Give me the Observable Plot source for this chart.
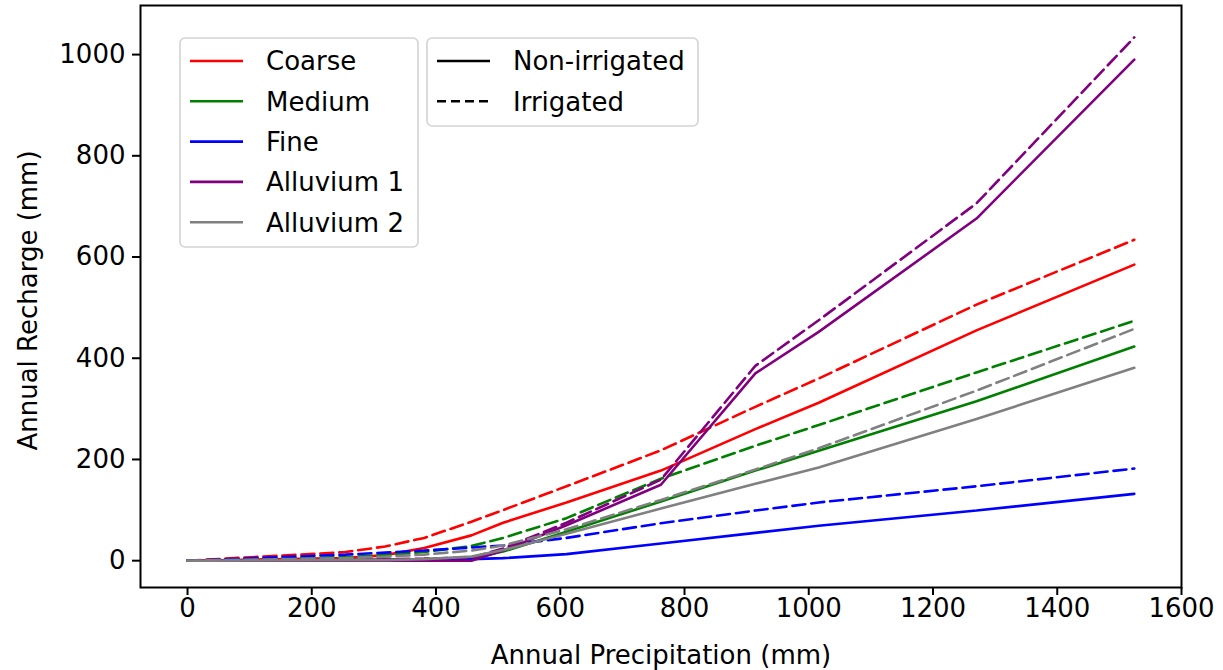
<!DOCTYPE html>
<html>
<head>
<meta charset="utf-8">
<script src="https://cdn.jsdelivr.net/npm/d3@7"></script>
<script src="https://cdn.jsdelivr.net/npm/@observablehq/plot@0.6"></script>
<style>
  body { margin: 0; background: #fff; }
  #wrap { position: relative; width: 1223px; height: 670px; font-family: "DejaVu Sans", sans-serif; }
  #wrap > svg { position: absolute; left: 0; top: 0; }
  #legend { position: absolute; left: 0; top: 0; pointer-events: none; }
</style>
</head>
<body>
<div id="wrap"></div>
<script>
// ---- data ----
const precip = [0, 254, 318, 381, 457, 508, 610, 762, 914, 1016, 1270, 1524];

const soils = ["Coarse", "Medium", "Fine", "Alluvium 1", "Alluvium 2"];
const soilColors = ["red", "green", "blue", "purple", "gray"];
const types = ["Non-irrigated", "Irrigated"];

const coarseNon  = [0, 5, 11, 25, 50, 75, 115, 178, 260, 312, 455, 585];
const coarseIrr  = [0, 17, 28, 45, 77, 100, 147, 218, 304, 360, 506, 634];
const mediumNon  = [0, 1, 2, 3, 5, 18, 57, 117, 178, 217, 315, 423];
const mediumIrr  = [0, 7, 11, 17, 29, 45, 84, 162, 227, 268, 372, 474];
const fineNon    = [0, 1, 1, 2, 3, 5, 13, 34, 55, 69, 99, 132];
const fineIrr    = [0, 12, 16, 20, 26, 30, 45, 74, 99, 115, 147, 182];
const alluv1Non  = [0, 0, 0, 0, 0, 20, 70, 150, 370, 452, 676, 990];
const alluv1Irr  = [0, 2, 3, 4, 6, 24, 75, 160, 385, 475, 706, 1034];
const alluv2Non  = [0, 1, 1, 3, 8, 21, 53, 103, 152, 184, 280, 381];
const alluv2Irr  = [0, 5, 8, 12, 20, 30, 62, 120, 180, 222, 336, 458];

const xTicks = [0, 200, 400, 600, 800, 1000, 1200, 1400, 1600];
const yTicks = [0, 200, 400, 600, 800, 1000];

const series = [
  ["Coarse", coarseNon, coarseIrr],
  ["Medium", mediumNon, mediumIrr],
  ["Fine", fineNon, fineIrr],
  ["Alluvium 1", alluv1Non, alluv1Irr],
  ["Alluvium 2", alluv2Non, alluv2Irr]
];

function rows(soil, vals, type) {
  return precip.map((p, i) => ({soil, type, precip: p, recharge: vals[i]}));
}

const FONT = 26;
const LW = 2.6;
const lineMarks = [];
for (const [soil, non, irr] of series) {
  lineMarks.push(Plot.line(rows(soil, non, "Non-irrigated"), {
    x: "precip", y: "recharge", stroke: "soil", strokeWidth: LW, strokeLinejoin: "miter"
  }));
  lineMarks.push(Plot.line(rows(soil, irr, "Irrigated"), {
    x: "precip", y: "recharge", stroke: "soil", strokeWidth: LW, strokeDasharray: "13,6", strokeLinejoin: "miter"
  }));
}

const chart = Plot.plot({
  width: 1223,
  height: 670,
  marginLeft: 140,
  marginRight: 42,
  marginTop: 5,
  marginBottom: 83,
  style: { fontFamily: "DejaVu Sans, sans-serif", fontSize: FONT + "px", color: "black", background: "white" },
  x: { domain: [-75.7, 1600] },
  y: { domain: [-53, 1097] },
  color: { domain: soils, range: soilColors },
  marks: [
    ...lineMarks,
    Plot.frame({ stroke: "black", strokeWidth: 2 }),
    Plot.axisX({ ticks: xTicks, tickSize: 8, tickPadding: 3, tickFormat: d => String(d), label: null, strokeWidth: 2, fontSize: FONT }),
    Plot.axisY({ ticks: yTicks, tickSize: 8, tickPadding: 7, tickFormat: d => String(d), label: null, strokeWidth: 2, fontSize: FONT }),
    Plot.text(["Annual Precipitation (mm)"], { frameAnchor: "bottom", dy: 68, lineAnchor: "middle", textAnchor: "middle", text: d => d, fontSize: FONT }),
    Plot.text(["Annual Recharge (mm)"], { frameAnchor: "left", dx: -112, dy: 4, rotate: -90, lineAnchor: "middle", textAnchor: "middle", text: d => d, fontSize: FONT })
  ]
});

const wrap = document.getElementById("wrap");
wrap.appendChild(chart);

// ---- legends drawn over the axes ----
const svg = d3.select(wrap).append("svg")
  .attr("id", "legend").attr("width", 1223).attr("height", 670)
  .style("font-family", "DejaVu Sans, sans-serif").style("font-size", FONT + "px");

function legendBox(x, y, w, h, entries) {
  const g = svg.append("g").attr("transform", `translate(${x},${y})`);
  g.append("rect").attr("x", 0).attr("y", 0).attr("width", w).attr("height", h)
    .attr("rx", 5).attr("fill", "rgba(255,255,255,0.8)").attr("stroke", "#d3d3d3").attr("stroke-width", 1.6);
  entries.forEach((e, i) => {
    const cy = 23 + i * 40.3;
    g.append("line").attr("x1", 10).attr("x2", 63).attr("y1", cy).attr("y2", cy)
      .attr("stroke", e.color).attr("stroke-width", LW)
      .attr("stroke-dasharray", e.dash || null);
    g.append("text").attr("x", 86).attr("y", cy).attr("dy", "0.36em").attr("fill", "black").text(e.label);
  });
}

legendBox(180, 38, 238, 209, soils.map((s, i) => ({label: s, color: soilColors[i]})));
legendBox(427, 38, 271, 88, [
  {label: types[0], color: "black"},
  {label: types[1], color: "black", dash: "9,5"}
]);
</script>
</body>
</html>
